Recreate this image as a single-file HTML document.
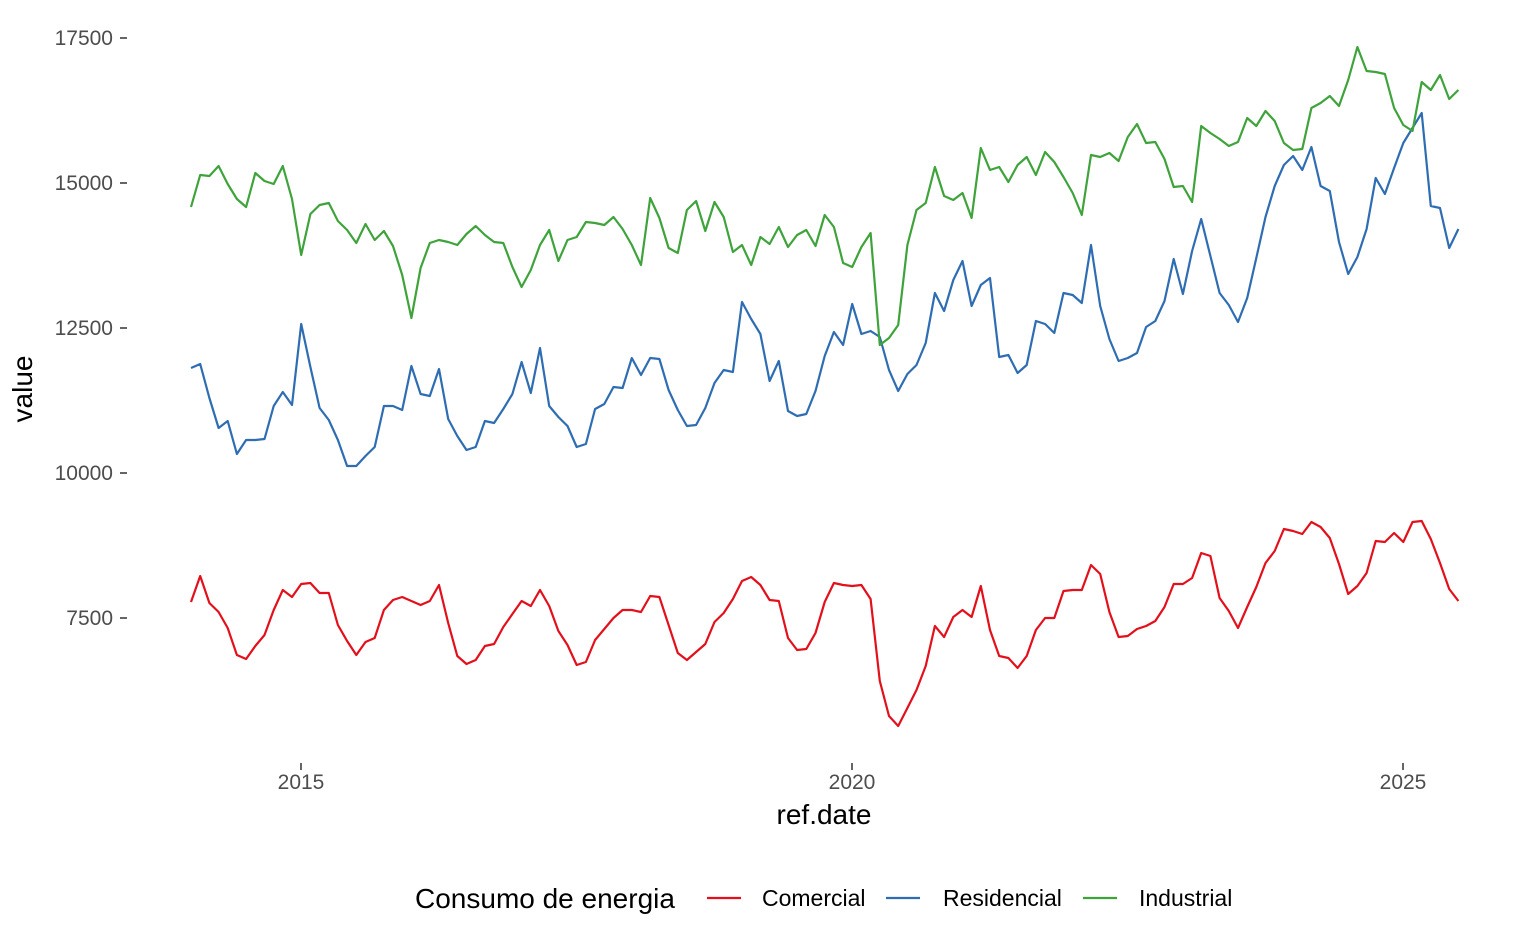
<!DOCTYPE html>
<html><head><meta charset="utf-8"><style>
html,body{margin:0;padding:0;background:#fff;}
svg{display:block;font-family:"Liberation Sans",sans-serif;}
</style></head><body>
<svg id="s" width="1536" height="949" viewBox="0 0 1536 949">
<g fill="#4d4d4d" font-size="21" text-anchor="end">
<text x="113" y="45">17500</text>
<text x="113" y="190">15000</text>
<text x="113" y="335">12500</text>
<text x="113" y="480">10000</text>
<text x="113" y="625">7500</text>
</g>
<g stroke="#333" stroke-width="1.5">
<line x1="120" y1="38" x2="127" y2="38"/><line x1="120" y1="183" x2="127" y2="183"/>
<line x1="120" y1="328" x2="127" y2="328"/><line x1="120" y1="473" x2="127" y2="473"/>
<line x1="120" y1="618" x2="127" y2="618"/>
<line x1="301" y1="763" x2="301" y2="770"/><line x1="852" y1="763" x2="852" y2="770"/>
<line x1="1403" y1="763" x2="1403" y2="770"/>
</g>
<g fill="#4d4d4d" font-size="21" text-anchor="middle">
<text x="301" y="789">2015</text><text x="852" y="789">2020</text><text x="1403" y="789">2025</text>
</g>
<text x="824" y="824" font-size="28" text-anchor="middle" fill="#000">ref.date</text>
<text transform="translate(32,389) rotate(-90)" font-size="28" text-anchor="middle" fill="#000">value</text>
<text x="415" y="908" font-size="28" fill="#000">Consumo de energia</text>
<line x1="707" y1="898" x2="741" y2="898" stroke="#E3101C" stroke-width="2.2"/>
<text x="762" y="906" font-size="23" fill="#000">Comercial</text>
<line x1="886" y1="898" x2="920" y2="898" stroke="#2F6DB3" stroke-width="2.2"/>
<text x="943" y="906" font-size="23" fill="#000">Residencial</text>
<line x1="1083" y1="898" x2="1117" y2="898" stroke="#3FA33B" stroke-width="2.2"/>
<text x="1139" y="906" font-size="23" fill="#000">Industrial</text>
</svg>
<script>
var G=[207,175,176,166,184,199,207,173,181,184,166,199,255,214,205,203,221,230,243,224,240,231,246,275,318,268,243,240,242,245,234,226,235,242,243,267,287,270,245,230,261,240,237,222,223,225,217,229,245,265,198,218,248,253,210,201,231,202,217,252,245,265,237,244,227,247,235,230,246,215,227,263,267,247,233,345,338,325,245,210,203,167,196,200,193,218,148,170,167,182,165,157,175,152,162,177,193,215,155,157,153,161,137,124,143,142,159,187,186,202,126,133,139,146,142,118,126,111,121,143,150,149,108,103,96,106,80,47,71,72,74,108,125,131,82,90,75,99,90];
var B=[368,364,398,428,421,454,440,440,439,406,392,405,324,367,408,420,440,466,466,456,447,406,406,410,366,394,396,369,419,436,450,447,421,423,409,394,362,393,348,406,417,426,447,444,409,404,387,388,358,375,358,359,390,410,426,425,408,383,370,372,302,319,334,381,361,411,416,414,391,356,332,345,304,334,331,337,370,391,374,365,343,293,311,280,261,306,285,278,357,355,373,365,321,324,333,293,295,303,245,306,339,361,358,353,327,321,301,259,294,251,219,256,293,305,322,298,258,217,186,165,156,170,147,186,191,242,274,257,229,178,194,168,143,128,113,206,208,248,229];
var R=[602,576,603,612,628,655,659,646,635,610,590,597,584,583,593,593,625,641,655,642,638,610,600,597,601,605,601,585,623,656,664,660,646,644,627,614,601,606,590,606,631,645,665,662,640,629,618,610,610,612,596,597,625,653,660,652,644,622,613,599,581,577,585,600,601,638,650,649,633,602,583,585,586,585,599,681,716,726,708,690,666,626,637,617,610,617,586,630,656,658,668,656,630,618,618,591,590,590,565,574,612,637,636,629,626,621,607,584,584,578,553,556,598,611,628,607,587,563,551,529,531,534,522,527,538,564,594,586,573,541,542,533,542,522,521,539,563,589,601];
var s=document.getElementById('s');
[[R,'#E3101C'],[B,'#2F6DB3'],[G,'#3FA33B']].forEach(function(d){
 var p=d[0].map(function(y,i){return (191+i*9.184).toFixed(1)+','+y}).join(' ');
 var e=document.createElementNS('http://www.w3.org/2000/svg','polyline');
 e.setAttribute('points',p);e.setAttribute('fill','none');e.setAttribute('stroke',d[1]);
 e.setAttribute('stroke-width','2.2');e.setAttribute('stroke-linejoin','round');
 s.appendChild(e);
});
</script>
</body></html>
